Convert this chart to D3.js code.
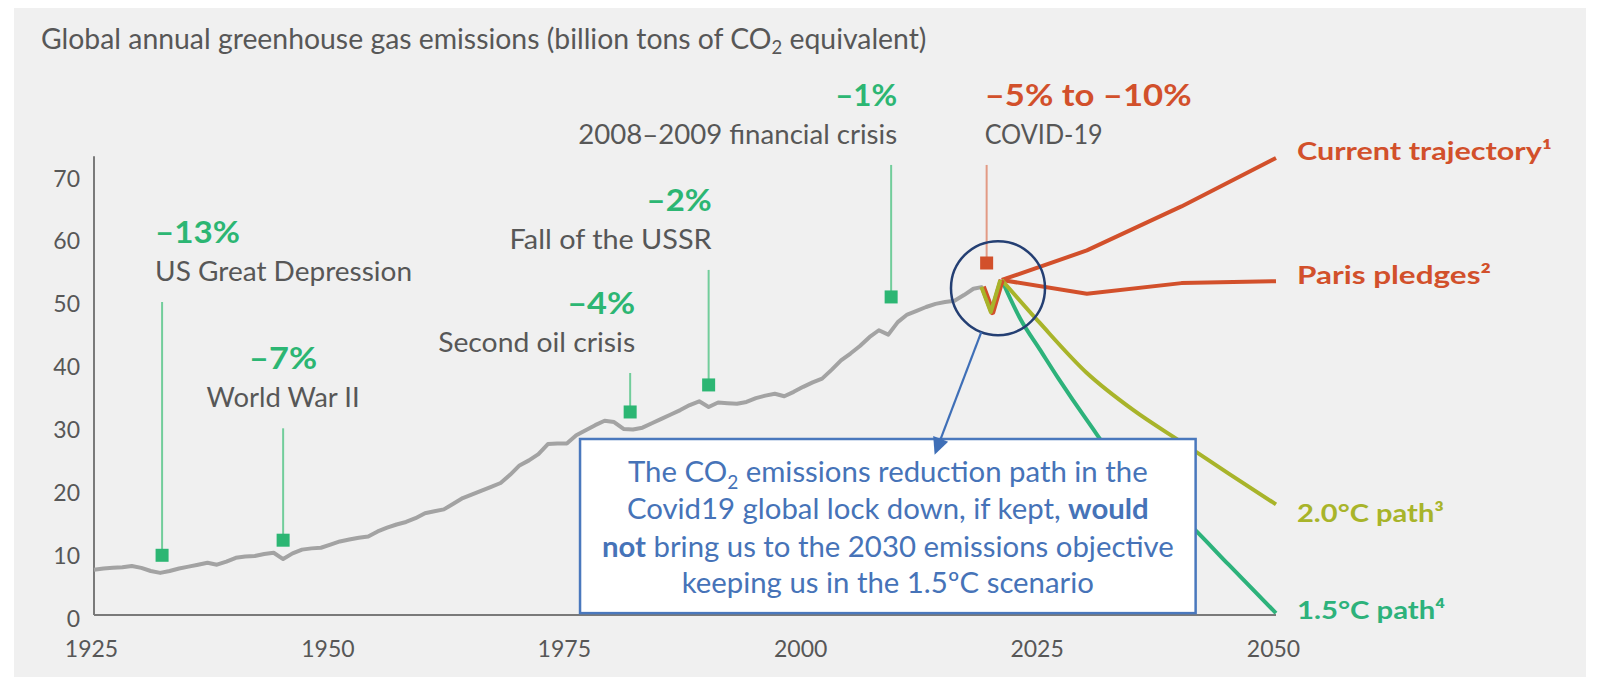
<!DOCTYPE html>
<html><head><meta charset="utf-8">
<script src="https://cdn.jsdelivr.net/npm/d3@7"></script>
<style>
html,body{margin:0;padding:0;background:#fff;}
svg{display:block;}
</style></head>
<body>
<svg id="chart" width="1600" height="677"></svg>
<script>
// ---------------- DATA ----------------
const titleText = "Global annual greenhouse gas emissions (billion tons of CO";
const titleTail = " equivalent)";
const histStartYear = 1925;
const histValues = [
  7.2, 7.4, 7.5, 7.6, 7.8, 7.5, 7.0, 6.7, 7.0, 7.4,
  7.7, 8.0, 8.3, 8.0, 8.5, 9.1, 9.3, 9.4, 9.7, 9.9,
  8.9, 9.8, 10.4, 10.6, 10.7, 11.2, 11.7, 12.0, 12.3, 12.5,
  13.3, 13.9, 14.4, 14.8, 15.4, 16.2, 16.5, 16.8, 17.7, 18.6,
  19.2, 19.8, 20.4, 21.0, 22.3, 23.8, 24.6, 25.6, 27.2, 27.3,
  27.3, 28.6, 29.4, 30.2, 30.9, 30.7, 29.6, 29.5, 29.8, 30.5,
  31.2, 31.9, 32.6, 33.4, 34.0, 33.1, 33.8, 33.7, 33.6, 33.9,
  34.5, 34.9, 35.2, 34.8, 35.5, 36.3, 37.0, 37.6, 39.0, 40.5,
  41.6, 42.8, 44.2, 45.3, 44.6, 46.6, 47.8, 48.4, 49.0, 49.5,
  49.8, 50.0, 50.9, 51.9, 52.2
];
const yTicks = [0, 10, 20, 30, 40, 50, 60, 70];
const xTicks = [1925, 1950, 1975, 2000, 2025, 2050];

const covidYears = [2019, 2020, 2021];
const covidValues = [52.2, 48.2, 53.3];

const currentYears = [2021, 2030, 2040, 2050];
const currentValues = [53.3, 58.0, 65.0, 72.7];
const parisYears = [2021, 2030, 2040, 2050];
const parisValues = [53.3, 51.1, 52.8, 53.1];
const path20Years = [2021, 2025, 2030, 2035, 2040, 2045, 2050];
const path20Values = [53.3, 46.5, 38.5, 32.5, 27.5, 22.5, 17.6];
const path15Years = [2021, 2023, 2025, 2027, 2030, 2035, 2040, 2045, 2050];
const path15Values = [53.3, 47.0, 42.3, 37.6, 31.0, 21.0, 15.6, 8.0, 0.3];

const scenarioNames = ["Current trajectory¹", "Paris pledges²", "2.0°C path³", "1.5°C path⁴"];

const eventYears = [1932.2, 1945, 1981.7, 1990, 2009.3];
const eventNames = ["US Great Depression", "World War II", "Second oil crisis", "Fall of the USSR", "2008–2009 financial crisis"];
const eventChanges = ["–13%", "–7%", "–4%", "–2%", "–1%"];
const eventMarkerValues = [9.5, 11.9, 32.3, 36.6, 50.6];

const covidEventYear = 2019.4;
const covidEventName = "COVID-19";
const covidEventChange = "–5% to –10%";
const covidMarkerValue = 56.0;

const noteLine1a = "The CO", noteSub = "2", noteLine1b = " emissions reduction path in the";
const noteLine2a = "Covid19 global lock down, if kept, ", noteLine2b = "would";
const noteLine3a = "not", noteLine3b = " bring us to the 2030 emissions objective";
const noteLine4 = "keeping us in the 1.5ºC scenario";

// ---------------- LAYOUT / STYLE ----------------
const W = 1600, H = 677;
const x = d3.scaleLinear().domain([1925, 2050]).range([94, 1276]);
const y = d3.scaleLinear().domain([0, 70]).range([615, 175]);

const C = {
  panel: "#f0f0f0", axis: "#7a7a7a", text: "#575757", gray: "#a3a3a3",
  green: "#2cb673", greenStem: "#72cd9b", red: "#d2502b", redStem: "#e29a84",
  olive: "#a8b42a", green15: "#2db27b", box: "#4a78bd", boxText: "#4673b8", circle: "#243f73"
};
const eventLayout = [
  {level: 49.8, anchor: "start",  dx: -7, nameW: 257, chgW: 85},
  {level: 29.7, anchor: "middle", dx: 0,  nameW: 153, chgW: 68},
  {level: 38.5, anchor: "end",    dx: 5,  nameW: 197, chgW: 68},
  {level: 54.9, anchor: "end",    dx: 3,  nameW: 202, chgW: 65},
  {level: 71.6, anchor: "end",    dx: 6,  nameW: 319, chgW: 62}
];
const covidLayout = {level: 71.6, anchor: "start", dx: -2, nameW: 118, chgW: 207};
const scenarioLayout = [
  {level: 72.4, w: 255, color: C.red},
  {level: 52.7, w: 194, color: C.red},
  {level: 14.8, w: 147, color: C.olive},
  {level: -0.6, w: 148, color: C.green15}
];
const circleCenter = {year: 2020.6, value: 52.0}, circleR = 47;
const arrowTip = {year: 2013.9, value: 25.5};
const boxSpan = {y0: 1976.4, y1: 2041.5, v0: 28.0, v1: 0.3};

function fitW(sel, w) { return sel.attr("textLength", w).attr("lengthAdjust", "spacingAndGlyphs"); }

const svg = d3.select("#chart");
svg.append("rect").attr("x", 14).attr("y", 8).attr("width", 1572).attr("height", H - 8).attr("fill", C.panel);

// title
const title = svg.append("text").attr("x", 41).attr("y", 49)
  .attr("font-family", "Lato").attr("font-size", 26).attr("fill", C.text);
title.append("tspan").text(titleText);
title.append("tspan").attr("font-size", "0.65em").attr("dy", 5).text("2");
title.append("tspan").attr("dy", -5).text(titleTail);
{
  const w = title.node().getBBox().width;
  title.attr("font-size", 26 * 886 / w);
}

// axes
const gy = svg.append("g").attr("transform", `translate(${x(1925) - 14},0)`)
  .call(d3.axisLeft(y).tickValues(yTicks).tickSize(0).tickPadding(0));
gy.select(".domain").remove();
gy.selectAll("text").attr("dy", 11).attr("font-family", "Lato").attr("font-size", 23).attr("fill", C.text);

const gx = svg.append("g").attr("transform", `translate(0,${y(0)})`)
  .call(d3.axisBottom(x).tickValues(xTicks).tickSize(0).tickFormat(d3.format("d")));
gx.select(".domain").remove();
gx.selectAll("text").attr("y", 42).attr("dy", 0).attr("dx", -3)
  .attr("font-family", "Lato").attr("font-size", 23).attr("fill", C.text);

svg.append("line").attr("x1", x(1925)).attr("x2", x(1925)).attr("y1", y(0)).attr("y2", y(73))
  .attr("stroke", C.axis).attr("stroke-width", 2);
svg.append("line").attr("x1", x(1925)).attr("x2", x(2050)).attr("y1", y(0)).attr("y2", y(0))
  .attr("stroke", C.axis).attr("stroke-width", 2);

// historical line
const hist = histValues.map((v, i) => [histStartYear + i, v]);
const lineGen = d3.line().x(d => x(d[0])).y(d => y(d[1]));
svg.append("path").datum(hist).attr("d", lineGen).attr("fill", "none")
  .attr("stroke", C.gray).attr("stroke-width", 4).attr("stroke-linejoin", "round");

// projections
const zip = (ys, vs) => ys.map((yr, i) => [yr, vs[i]]);
const smooth = d3.line().x(d => x(d[0])).y(d => y(d[1])).curve(d3.curveMonotoneX);
const proj = [
  {d: zip(currentYears, currentValues), c: C.red, gen: lineGen},
  {d: zip(parisYears, parisValues), c: C.red, gen: lineGen},
  {d: zip(path15Years, path15Values), c: C.green15, gen: smooth},
  {d: zip(path20Years, path20Values), c: C.olive, gen: smooth}
];
proj.forEach(p => svg.append("path").datum(p.d).attr("d", p.gen).attr("fill", "none")
  .attr("stroke", p.c).attr("stroke-width", 4).attr("stroke-linejoin", "round"));
// covid dip
const covid = zip(covidYears, covidValues);
svg.append("path").datum(covid).attr("d", lineGen).attr("fill", "none")
  .attr("stroke", C.red).attr("stroke-width", 6).attr("stroke-linejoin", "round");
svg.append("path").datum(covid).attr("d", lineGen).attr("fill", "none")
  .attr("stroke", C.olive).attr("stroke-width", 4).attr("stroke-linejoin", "round")
  .attr("transform", "translate(-1.5,0)");

// scenario labels
scenarioNames.forEach((n, i) => {
  const L = scenarioLayout[i];
  fitW(svg.append("text").attr("x", x(2050) + 21).attr("y", y(L.level))
    .attr("font-family", "Lato").attr("font-weight", 700).attr("font-size", 24)
    .attr("fill", L.color).text(n), L.w);
});

// events
function drawEvent(year, name, change, markerVal, L, strong, stem) {
  const cx = x(year), top = y(L.level), my = y(markerVal);
  svg.append("line").attr("x1", cx).attr("x2", cx).attr("y1", top).attr("y2", my)
    .attr("stroke", stem).attr("stroke-width", 2);
  svg.append("rect").attr("x", cx - 6.5).attr("y", my - 6.5).attr("width", 13).attr("height", 13).attr("fill", strong);
  const nb = top - 21;
  fitW(svg.append("text").attr("x", cx + L.dx).attr("y", nb).attr("text-anchor", L.anchor)
    .attr("font-family", "Lato").attr("font-size", 27).attr("fill", C.text).text(name), L.nameW);
  fitW(svg.append("text").attr("x", cx + L.dx).attr("y", nb - 38).attr("text-anchor", L.anchor)
    .attr("font-family", "Lato").attr("font-weight", 700).attr("font-size", 30).attr("fill", strong).text(change), L.chgW);
}
eventYears.forEach((yr, i) => drawEvent(yr, eventNames[i], eventChanges[i], eventMarkerValues[i], eventLayout[i], C.green, C.greenStem));
drawEvent(covidEventYear, covidEventName, covidEventChange, covidMarkerValue, covidLayout, C.red, C.redStem);

// highlight circle
const ccx = x(circleCenter.year), ccy = y(circleCenter.value);
svg.append("circle").attr("cx", ccx).attr("cy", ccy).attr("r", circleR)
  .attr("fill", "none").attr("stroke", C.circle).attr("stroke-width", 2.5);

// text box
const bx0 = x(boxSpan.y0), bx1 = x(boxSpan.y1), by0 = y(boxSpan.v0), by1 = y(boxSpan.v1);
svg.append("rect").attr("x", bx0).attr("y", by0).attr("width", bx1 - bx0).attr("height", by1 - by0)
  .attr("fill", "#fff").attr("stroke", C.box).attr("stroke-width", 2.5);

// arrow
const tx = x(arrowTip.year), ty = y(arrowTip.value);
const ang = Math.atan2(ty - ccy, tx - ccx);
const sx = ccx + circleR * Math.cos(ang), sy = ccy + circleR * Math.sin(ang);
const headLen = 17, headW = 8;
const bxh = tx - headLen * Math.cos(ang), byh = ty - headLen * Math.sin(ang);
svg.append("line").attr("x1", sx).attr("y1", sy).attr("x2", bxh).attr("y2", byh)
  .attr("stroke", "#3f6fb7").attr("stroke-width", 2.2);
const px = -Math.sin(ang), py = Math.cos(ang);
svg.append("path").attr("d", `M${tx},${ty}L${bxh + px * headW},${byh + py * headW}L${bxh - px * headW},${byh - py * headW}Z`)
  .attr("fill", "#3f6fb7");

// box text
const mid = (bx0 + bx1) / 2;
const noteG = svg.append("g").attr("font-family", "Lato").attr("fill", C.boxText).attr("text-anchor", "middle");
const t1 = noteG.append("text").attr("x", mid).attr("y", by0 + 42.5);
t1.append("tspan").text(noteLine1a);
t1.append("tspan").attr("font-size", "0.65em").attr("dy", 7).text(noteSub);
t1.append("tspan").attr("dy", -7).text(noteLine1b);
const t2 = noteG.append("text").attr("x", mid).attr("y", by0 + 79.5);
t2.append("tspan").text(noteLine2a);
t2.append("tspan").attr("font-weight", 700).text(noteLine2b);
const t3 = noteG.append("text").attr("x", mid).attr("y", by0 + 117.5);
t3.append("tspan").attr("font-weight", 700).text(noteLine3a);
t3.append("tspan").text(noteLine3b);
const t4 = noteG.append("text").attr("x", mid).attr("y", by0 + 154).text(noteLine4);
noteG.attr("font-size", 26);
{
  const w3 = t3.node().getBBox().width;
  noteG.attr("font-size", 26 * 572 / w3);
}
</script>
</body></html>
